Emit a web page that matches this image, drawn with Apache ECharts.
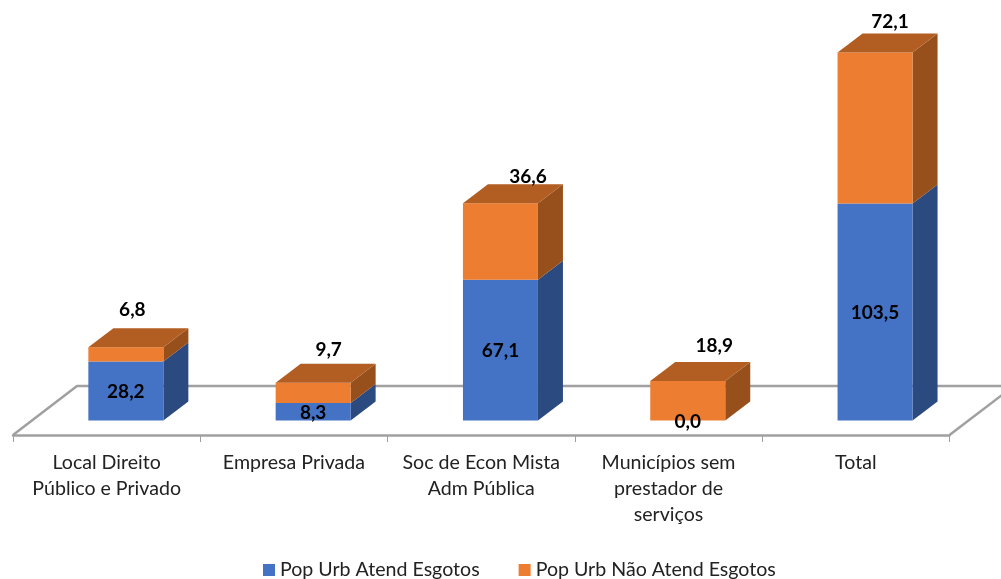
<!DOCTYPE html>
<html>
<head>
<meta charset="utf-8">
<style>
  html, body { margin: 0; padding: 0; background: #fff; overflow: hidden; }
  #chart { width: 1001px; height: 579px; }
</style>
<script src="https://cdn.jsdelivr.net/npm/echarts@6/dist/echarts.min.js"></script>
</head>
<body>
<div id="chart"></div>
<script>
const categories = ['Local Direito\nPúblico e Privado', 'Empresa Privada', 'Soc de Econ Mista\nAdm Pública', 'Municípios sem\nprestador de\nserviços', 'Total']
const atendidos = [28.2, 8.3, 67.1, 0.0, 103.5]
const naoAtendidos = [6.8, 9.7, 36.6, 18.9, 72.1]

// look of the fake 3d boxes, px
const barWidth = 75
const barShift = 19.2
const depthX = 25
const depthY = 19
// the top labels are placed by hand in the original
const topLabelDx = [6.5, 15.5, 27.5, 26.5, 15]
const topLabelDy = [18, 13.5, 7.5, 16.5, 11.5]

const fontName = 'Lato'
const labelFont = 'bold 19px ' + fontName

function fmt(v) {
  return v.toFixed(1).replace('.', ',')
}

function boxItem(colors, isTop) {
  return function (params, api) {
    const i = api.value(0)
    const base = api.value(1)
    const val = api.value(2)
    const p0 = api.coord([i, base])
    const p1 = api.coord([i, base + val])
    const x0 = p0[0] + barShift - barWidth / 2
    const x1 = x0 + barWidth
    const yb = p0[1]
    const yt = p1[1]
    const children = [
      { type: 'polygon', shape: { points: [[x1, yb], [x1 + depthX, yb - depthY], [x1 + depthX, yt - depthY], [x1, yt]] }, style: { fill: colors.side } },
      { type: 'rect', shape: { x: x0, y: yt, width: barWidth, height: yb - yt }, style: { fill: colors.front } }
    ]
    if (isTop) {
      children.push({ type: 'polygon', shape: { points: [[x0, yt], [x0 + depthX, yt - depthY], [x1 + depthX, yt - depthY], [x1, yt]] }, style: { fill: colors.top } })
      children.push({
        type: 'text', z2: 10,
        style: { text: fmt(val), x: (x0 + x1) / 2 + topLabelDx[i], y: yt - depthY - topLabelDy[i], align: 'center', verticalAlign: 'middle', fill: '#000', font: labelFont }
      })
    } else {
      children.push({
        type: 'text', z2: 10,
        style: { text: fmt(val), x: (x0 + x1) / 2, y: (yb + yt) / 2 + 1, align: 'center', verticalAlign: 'middle', fill: '#000', font: labelFont }
      })
    }
    return { type: 'group', children: children }
  }
}

const chart = echarts.init(document.getElementById('chart'))
chart.setOption({
  animation: false,
  textStyle: { fontFamily: fontName },
  grid: { left: 13, right: 51.5, top: 1.3, bottom: 158.5 },
  legend: {
    top: 555,
    left: 258,
    icon: 'rect',
    itemWidth: 12,
    itemHeight: 12,
    itemGap: 39,
    textStyle: { fontFamily: fontName, fontSize: 19.6, color: '#222', padding: [0, 0, 0, 0] }
  },
  xAxis: {
    type: 'category',
    data: categories,
    offset: 14.5,
    axisLine: { show: true, onZero: false, lineStyle: { color: '#a0a0a0', width: 2.5 } },
    axisTick: { show: true, length: 7, lineStyle: { color: '#a0a0a0', width: 1 } },
    axisLabel: { fontFamily: fontName, fontSize: 19.6, color: '#222', lineHeight: 26, margin: 15, interval: 0 }
  },
  yAxis: { type: 'value', min: 0, max: 200, show: false },
  graphic: [
    // floor of the 3d plot
    { type: 'polyline', z: 0, silent: true, shape: { points: [[13, 435], [77, 386], [1001, 386]] }, style: { fill: null, stroke: '#a0a0a0', lineWidth: 2.5 } },
    { type: 'polyline', z: 0, silent: true, shape: { points: [[949.5, 435], [1002, 395]] }, style: { fill: null, stroke: '#a0a0a0', lineWidth: 2.5 } }
  ],
  series: [
    {
      name: 'Pop Urb Atend Esgotos',
      type: 'custom',
      z: 3,
      clip: false,
      itemStyle: { color: '#4472C4' },
      encode: { x: 0, y: [1, 2] },
      renderItem: boxItem({ front: '#4472C4', side: '#2B4A80' }, false),
      data: atendidos.map((v, i) => [i, 0, v])
    },
    {
      name: 'Pop Urb Não Atend Esgotos',
      type: 'custom',
      z: 3,
      clip: false,
      itemStyle: { color: '#ED7D31' },
      encode: { x: 0, y: [1, 2] },
      renderItem: boxItem({ front: '#ED7D31', side: '#97501C', top: '#B25D22' }, true),
      data: naoAtendidos.map((v, i) => [i, atendidos[i], v])
    }
  ]
})
</script>
</body>
</html>
